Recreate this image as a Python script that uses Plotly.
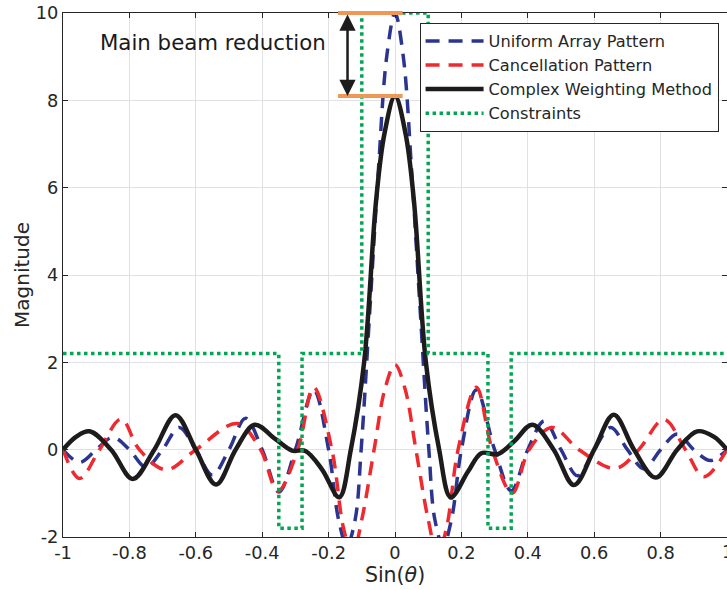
import plotly.graph_objects as go

# ---- data ---------------------------------------------------------------
# Uniform array pattern (blue)
u_uniform = [-1.0, -0.95, -0.9, -0.85, -0.8, -0.75, -0.7, -0.65, -0.6, -0.55,
             -0.5, -0.45, -0.4, -0.35, -0.3, -0.245, -0.2, -0.17, -0.145, -0.12,
             -0.102, -0.075, -0.05, -0.025, 0.0, 0.025, 0.05, 0.075, 0.102, 0.12,
             0.145, 0.17, 0.2, 0.245, 0.3, 0.35, 0.4, 0.45, 0.5, 0.55,
             0.6, 0.65, 0.7, 0.75, 0.8, 0.85, 0.9, 0.95, 1.0]
m_uniform = [0.0, -0.29, 0.0, 0.28, 0.0, -0.40, 0.0, 0.51, 0.0, -0.58,
             0.0, 0.72, 0.0, -0.97, 0.0, 1.37, 0.0, -1.6, -2.2, -1.6,
             0.0, 3.3, 6.4, 9.0, 10.0, 9.0, 6.4, 3.3, 0.0, -1.6,
             -2.2, -1.6, 0.0, 1.37, 0.0, -0.94, 0.0, 0.66, 0.0, -0.60,
             0.0, 0.51, 0.0, -0.44, 0.0, 0.36, 0.0, -0.25, 0.0]

# Cancellation pattern (red)
u_cancel = [-1.0, -0.95, -0.89, -0.825, -0.77, -0.69, -0.6, -0.475, -0.405, -0.353,
            -0.293, -0.245, -0.19, -0.155, -0.128, -0.1, -0.063, -0.03, 0.0, 0.03,
            0.063, 0.1, 0.128, 0.155, 0.19, 0.245, 0.293, 0.353, 0.404, 0.473,
            0.554, 0.664, 0.734, 0.81, 0.875, 0.93, 1.0]
m_cancel = [0.0, -0.66, 0.0, 0.70, 0.0, -0.46, 0.0, 0.60, 0.0, -0.95,
            0.0, 1.43, 0.0, -1.8, -2.4, -1.6, 0.0, 1.4, 1.95, 1.4,
            0.0, -1.6, -2.4, -1.8, 0.0, 1.43, 0.0, -1.0, 0.0, 0.51,
            0.0, -0.43, 0.0, 0.69, 0.0, -0.62, 0.0]

# Complex weighting method (black)
u_complex = [-1.0, -0.96, -0.92, -0.855, -0.79, -0.725, -0.661, -0.6, -0.539, -0.48,
             -0.423, -0.36, -0.31, -0.27, -0.22, -0.168, -0.133, -0.093, -0.057, -0.032,
             0.0, 0.032, 0.057, 0.093, 0.133, 0.168, 0.22, 0.26, 0.31, 0.36,
             0.414, 0.478, 0.539, 0.6, 0.659, 0.72, 0.785, 0.85, 0.91, 0.96, 1.0]
m_complex = [0.0, 0.30, 0.42, 0.0, -0.67, 0.0, 0.79, 0.0, -0.80, 0.0,
             0.57, 0.24, -0.02, -0.03, -0.45, -1.09, 0.0, 2.0, 5.7, 7.23,
             8.1, 7.23, 5.7, 2.0, 0.0, -1.09, -0.5, -0.08, -0.1, 0.2,
             0.57, 0.0, -0.81, 0.0, 0.80, 0.0, -0.64, 0.0, 0.42, 0.30, 0.0]

# Constraint mask (green), one level per segment starting at each edge
u_mask = [-1.0, -0.35, -0.28, -0.1, 0.1, 0.28, 0.35, 1.0]
m_mask = [2.2, -1.8, 2.2, 10.0, 2.2, -1.8, 2.2, 2.2]

x_ticks = [-1, -0.8, -0.6, -0.4, -0.2, 0, 0.2, 0.4, 0.6, 0.8, 1]
x_tick_labels = ["-1", "-0.8", "-0.6", "-0.4", "-0.2", "0", "0.2", "0.4", "0.6", "0.8", "1"]
y_ticks = [-2, 0, 2, 4, 6, 8, 10]
y_tick_labels = ["-2", "0", "2", "4", "6", "8", "10"]

# span of the peak markers and position of the reduction arrow
peak_marker_span = [-0.176, 0.023]
arrow_u = -0.143

# ---- styling ------------------------------------------------------------
FONT = "DejaVu Sans, Liberation Sans, sans-serif"
INK = "#262626"
BLUE = "#2B3590"
RED = "#EE2A2F"
BLACK = "#1E1B1C"
GREEN = "#00A651"
ORANGE = "#EF9756"
TICK_SIZE = 17.8

fig = go.Figure()

fig.add_trace(go.Scatter(
    x=u_uniform, y=m_uniform, mode="lines", name="Uniform Array Pattern",
    line=dict(color=BLUE, width=3.5, dash="14px,9px", shape="spline", smoothing=1.0),
))
fig.add_trace(go.Scatter(
    x=u_cancel, y=m_cancel, mode="lines", name="Cancellation Pattern",
    line=dict(color=RED, width=3.5, dash="14px,9px", shape="spline", smoothing=1.0),
))
fig.add_trace(go.Scatter(
    x=u_complex, y=m_complex, mode="lines", name="Complex Weighting Method",
    line=dict(color=BLACK, width=4.5, shape="spline", smoothing=1.0),
))
fig.add_trace(go.Scatter(
    x=u_mask, y=m_mask, mode="lines", name="Constraints",
    line=dict(color=GREEN, width=3.5, dash="3.5px,3.5px", shape="hv"),
))

# peak levels taken straight from the two patterns
uniform_peak = max(m_uniform)
complex_peak = max(m_complex)

annotations = []
for level in (uniform_peak, complex_peak):
    annotations.append(dict(
        x=peak_marker_span[1], y=level, ax=peak_marker_span[0], ay=level,
        xref="x", yref="y", axref="x", ayref="y", text="", showarrow=True,
        arrowhead=0, arrowwidth=4, arrowcolor=ORANGE, standoff=0, startstandoff=0,
    ))
annotations.append(dict(
    x=arrow_u, y=complex_peak, ax=arrow_u, ay=uniform_peak,
    xref="x", yref="y", axref="x", ayref="y", text="", showarrow=True,
    arrowhead=2, startarrowhead=2, arrowside="end+start", arrowsize=1.3,
    startarrowsize=1.3, arrowwidth=2.5, arrowcolor=BLACK, standoff=0, startstandoff=0,
))
annotations.append(dict(
    x=-0.895, y=9.33, xref="x", yref="y", xanchor="left", yanchor="middle",
    text="Main beam reduction", showarrow=False,
    font=dict(family=FONT, size=21.3, color="#1a1a1a"),
))
# last x tick label sits on the right edge of the canvas
annotations.append(dict(
    x=1, y=0, xref="paper", yref="paper", xanchor="center", yanchor="middle",
    yshift=-14.5, text=x_tick_labels[-1], showarrow=False,
    font=dict(family=FONT, size=TICK_SIZE, color=INK),
))

axis_common = dict(
    showline=True, linecolor=INK, linewidth=1, mirror="ticks",
    ticks="inside", ticklen=5, tickcolor=INK, tickwidth=1,
    showgrid=True, gridcolor="#E0E1E5", gridwidth=1, zeroline=False,
    tickfont=dict(family=FONT, size=TICK_SIZE, color=INK),
)

fig.update_layout(
    width=727, height=590,
    margin=dict(l=63, r=0, t=13, b=53),
    paper_bgcolor="white", plot_bgcolor="white",
    font=dict(family=FONT, color=INK),
    xaxis=dict(
        range=[-1, 1], tickmode="array", tickvals=x_ticks, ticktext=x_tick_labels,
        title=dict(text="Sin(<i>θ</i>)", font=dict(family=FONT, size=20.5, color=INK), standoff=2),
        **axis_common,
    ),
    yaxis=dict(
        range=[-2, 10], tickmode="array", tickvals=y_ticks, ticktext=y_tick_labels,
        title=dict(text="Magnitude", font=dict(family=FONT, size=20, color=INK), standoff=0),
        **axis_common,
    ),
    legend=dict(
        x=0.537, y=0.981, xanchor="left", yanchor="top",
        bgcolor="white", bordercolor=INK, borderwidth=1,
        font=dict(family=FONT, size=16.2, color=INK),
        itemwidth=58, tracegroupgap=0,
    ),
    annotations=annotations,
    showlegend=True,
)

fig.write_html("out.html")
